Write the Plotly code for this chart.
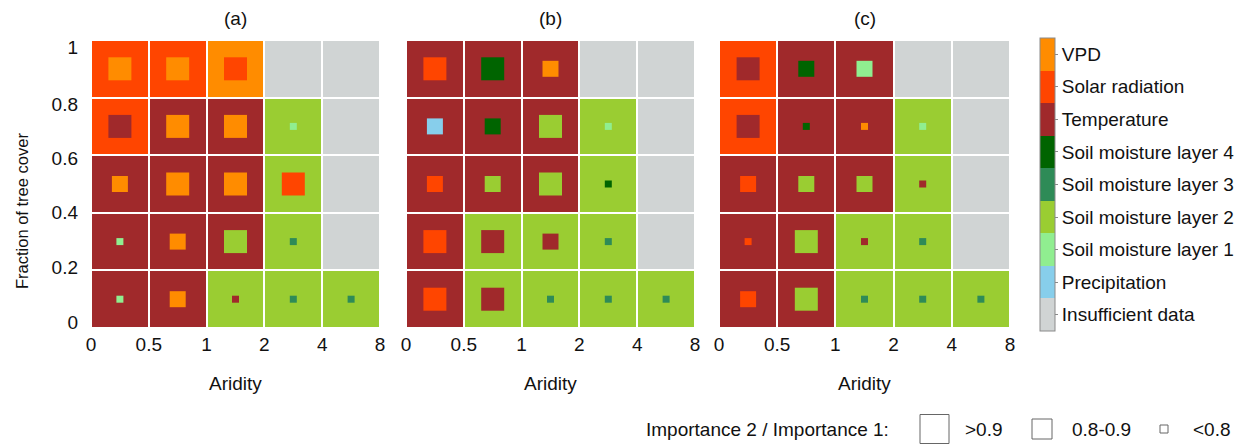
import plotly.graph_objects as go

# ---------------- data ----------------
categories = ["Insufficient data", "Precipitation", "Soil moisture layer 1", "Soil moisture layer 2",
              "Soil moisture layer 3", "Soil moisture layer 4", "Temperature", "Solar radiation", "VPD"]
category_codes = ["I", "P", "S1", "S2", "S3", "S4", "T", "R", "V"]
category_colors = ["#D0D4D4", "#87CEEB", "#90EE90", "#9ACD32", "#2E8B57", "#006400",
                   "#A0292B", "#FF4500", "#FF8C00"]

aridity_ticks = ["0", "0.5", "1", "2", "4", "8"]
tree_cover_ticks = ["0", "0.2", "0.4", "0.6", "0.8", "1"]
panel_titles = ["(a)", "(b)", "(c)"]

# rows: tree cover 0.8-1 (top) ... 0-0.2 (bottom); columns: aridity 0-0.5 ... 4-8
a_background = [["R", "R", "V", "I", "I"],
                ["R", "T", "T", "S2", "I"],
                ["T", "T", "T", "S2", "I"],
                ["T", "T", "T", "S2", "I"],
                ["T", "T", "S2", "S2", "S2"]]
a_inner = [["V", "V", "R", None, None],
           ["T", "V", "V", "S1", None],
           ["V", "V", "V", "R", None],
           ["S1", "V", "S2", "S3", None],
           ["S1", "V", "T", "S3", "S3"]]
a_ratio_class = [[3, 3, 3, 0, 0],
                 [3, 3, 3, 1, 0],
                 [2, 3, 3, 3, 0],
                 [1, 2, 3, 1, 0],
                 [1, 2, 1, 1, 1]]

b_background = [["T", "T", "T", "I", "I"],
                ["T", "T", "T", "S2", "I"],
                ["T", "T", "T", "S2", "I"],
                ["T", "S2", "S2", "S2", "I"],
                ["T", "S2", "S2", "S2", "S2"]]
b_inner = [["R", "S4", "V", None, None],
           ["P", "S4", "S2", "S1", None],
           ["R", "S2", "S2", "S4", None],
           ["R", "T", "T", "S3", None],
           ["R", "T", "S3", "S3", "S3"]]
b_ratio_class = [[3, 3, 2, 0, 0],
                 [2, 2, 3, 1, 0],
                 [2, 2, 3, 1, 0],
                 [3, 3, 2, 1, 0],
                 [3, 3, 1, 1, 1]]

c_background = [["R", "T", "T", "I", "I"],
                ["R", "T", "T", "S2", "I"],
                ["T", "T", "T", "S2", "I"],
                ["T", "T", "S2", "S2", "I"],
                ["T", "T", "S2", "S2", "S2"]]
c_inner = [["T", "S4", "S1", None, None],
           ["T", "S4", "V", "S1", None],
           ["R", "S2", "S2", "T", None],
           ["R", "S2", "T", "S3", None],
           ["R", "S2", "S3", "S3", "S3"]]
c_ratio_class = [[3, 2, 2, 0, 0],
                 [3, 1, 1, 1, 0],
                 [2, 2, 2, 1, 0],
                 [1, 3, 1, 1, 0],
                 [2, 3, 1, 1, 1]]

ratio_labels = [">0.9", "0.8-0.9", "<0.8"]
ratio_classes = [3, 2, 1]

# ---------------- style ----------------
W, H = 1247, 445
FONT = "Liberation Sans, Arial, sans-serif"
FS = 19
TXT = "#111111"
square_px = {3: 23, 2: 16, 1: 7}
legend_square_px = {3: 29, 2: 20, 1: 8}
panel_px = [(91, 380), (406, 695), (719, 1010)]
panel_top, panel_bottom = 40, 328
# small inward nudges of the y tick labels (as drawn in the reference), in cell units
ytick_nudge = [0.1, 0.06, 0.0, -0.05, -0.11, -0.12]

code_index = {c: i for i, c in enumerate(category_codes)}
n = len(categories)
colorscale = []
for i, col in enumerate(category_colors):
    colorscale.append([i / n, col])
    colorscale.append([(i + 1) / n, col])

panels = [(a_background, a_inner, a_ratio_class),
          (b_background, b_inner, b_ratio_class),
          (c_background, c_inner, c_ratio_class)]

fig = go.Figure()
ncol = len(aridity_ticks) - 1
nrow = len(tree_cover_ticks) - 1
centers_x = [i + 0.5 for i in range(ncol)]
centers_y = [j + 0.5 for j in range(nrow)]


def note(x, y, text, size=FS, **kw):
    fig.add_annotation(x=x, y=y, xref="paper", yref="paper", text=text, showarrow=False,
                       yanchor=kw.pop("yanchor", "middle"), xanchor=kw.pop("xanchor", "center"),
                       font=dict(size=size, family=FONT, color=TXT), **kw)


for k, (bg, inner, ratio) in enumerate(panels):
    sx = "" if k == 0 else str(k + 1)
    bg_rows = list(reversed(bg))
    z = [[code_index[c] for c in row] for row in bg_rows]
    hm = dict(z=z, x=centers_x, y=centers_y, zmin=-0.5, zmax=n - 0.5,
              colorscale=colorscale, xgap=2, ygap=2, showscale=(k == 0),
              xaxis="x" + sx, yaxis="y" + sx, hoverinfo="skip")
    if k == 0:
        hm["colorbar"] = dict(
            tickvals=list(range(n)), ticktext=categories,
            x=1040 / W, xanchor="left", xpad=0, ypad=0,
            thickness=15, thicknessmode="pixels",
            len=(331 - 38) / H, lenmode="fraction",
            y=1 - (38 + 331) / 2 / H, yanchor="middle",
            outlinewidth=1, outlinecolor="#8a8a8a",
            ticks="outside", ticklen=3, tickcolor="#8a8a8a",
            tickfont=dict(size=FS, family=FONT, color=TXT))
    fig.add_trace(go.Heatmap(**hm))

    xs, ys, cols, sizes = [], [], [], []
    inner_rows = list(reversed(inner))
    ratio_rows = list(reversed(ratio))
    for j in range(nrow):
        for i in range(ncol):
            c = inner_rows[j][i]
            if c is None:
                continue
            xs.append(centers_x[i])
            ys.append(centers_y[j])
            cols.append(category_colors[code_index[c]])
            sizes.append(square_px[ratio_rows[j][i]])
    fig.add_trace(go.Scatter(x=xs, y=ys, mode="markers", xaxis="x" + sx, yaxis="y" + sx,
                             marker=dict(symbol="square", size=sizes, color=cols, opacity=1,
                                         line=dict(width=0)),
                             showlegend=False, hoverinfo="skip"))

    x0, x1 = panel_px[k]
    fig.update_layout(**{
        "xaxis" + sx: dict(domain=[x0 / W, x1 / W], range=[0, ncol], anchor="y" + sx,
                           tickvals=list(range(ncol + 1)), ticktext=aridity_ticks,
                           showgrid=False, zeroline=False, showline=False, ticks="",
                           ticklabelstandoff=3, automargin=False,
                           tickfont=dict(size=FS, family=FONT, color=TXT)),
        "yaxis" + sx: dict(domain=[1 - panel_bottom / H, 1 - panel_top / H], range=[0, nrow],
                           anchor="x" + sx,
                           tickvals=[j + d for j, d in zip(range(nrow + 1), ytick_nudge)],
                           ticktext=tree_cover_ticks,
                           showticklabels=(k == 0),
                           showgrid=False, zeroline=False, showline=False, ticks="",
                           ticklabelstandoff=12, automargin=False,
                           tickfont=dict(size=FS, family=FONT, color=TXT)),
    })
    cx = (x0 + x1) / 2 / W
    note(cx, 1 - 18 / H, panel_titles[k])
    note(cx, 1 - 383 / H, "Aridity")

note(22 / W, 1 - 211 / H, "Fraction of tree cover", size=16.5, textangle=-90)

# size legend
note(891 / W, 1 - 429 / H, "Importance 2 / Importance 1:", xanchor="right")
legend_centers = [934.5, 1042, 1164]
legend_text_x = [963, 1070, 1191]
for cls, lab, cxp, tx in zip(ratio_classes, ratio_labels, legend_centers, legend_text_x):
    s = legend_square_px[cls]
    fig.add_shape(type="rect", xref="paper", yref="paper", xsizemode="pixel", ysizemode="pixel",
                  xanchor=cxp / W, yanchor=1 - 429 / H, x0=-s / 2, x1=s / 2, y0=-s / 2, y1=s / 2,
                  line=dict(color="#666", width=1), fillcolor="white")
    note(tx / W, 1 - 429 / H, lab, xanchor="left")

fig.update_layout(width=W, height=H, margin=dict(l=0, r=0, t=0, b=0, autoexpand=False),
                  paper_bgcolor="white", plot_bgcolor="white", showlegend=False,
                  font=dict(family=FONT, size=FS, color=TXT))

fig.write_html("out.html", config={"displayModeBar": False},
               post_script="document.body.style.margin='0px';document.body.style.overflow='hidden';")
